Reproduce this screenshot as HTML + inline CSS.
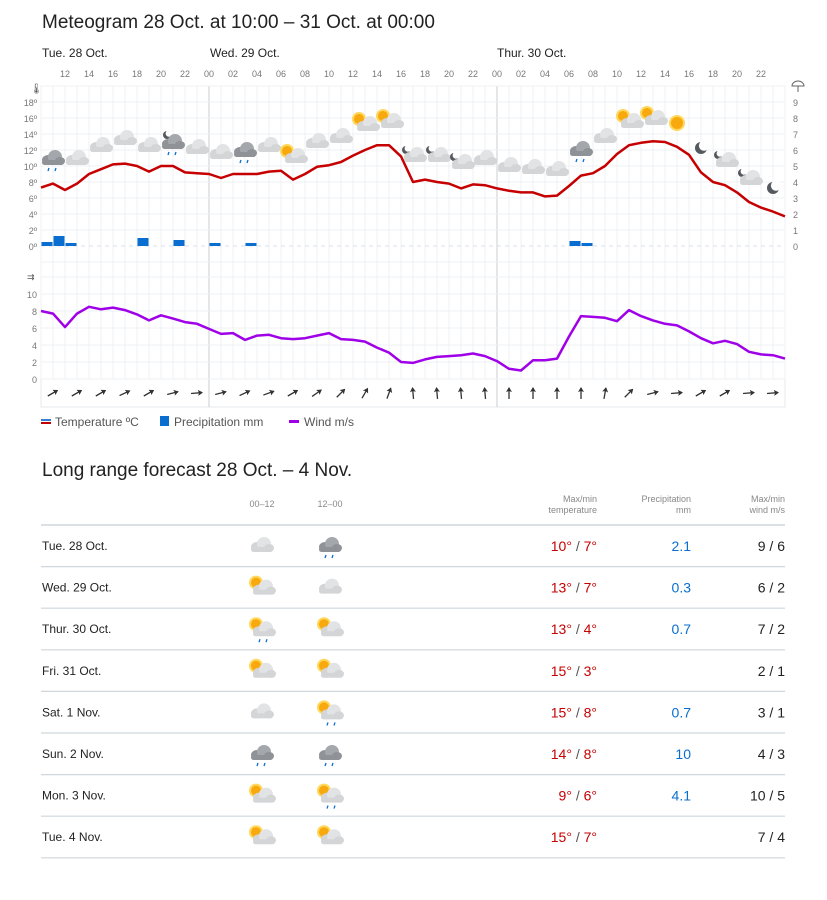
<!DOCTYPE html>
<html><head><meta charset="utf-8"><style>
body{margin:0;background:#fff;font-family:"Liberation Sans",sans-serif;color:#222;}
#wrap{position:relative;width:827px;height:900px;overflow:hidden}
.t{position:absolute;white-space:nowrap}
</style></head><body><div id="wrap">
<div class="t" style="left:42px;top:12px;font-size:19px;color:#222">Meteogram 28 Oct. at 10:00 – 31 Oct. at 00:00</div>
<svg id="ch" width="827" height="440" style="position:absolute;left:0;top:0" font-family="Liberation Sans, sans-serif"></svg>
<div class="t" style="left:42px;top:460px;font-size:19px">Long range forecast 28 Oct. – 4 Nov.</div>
<svg id="tb" width="827" height="420" style="position:absolute;left:0;top:480px" font-family="Liberation Sans, sans-serif"></svg>
</div>
<script>
var s='';
var X0=41,HW=12;
function x(h){return X0+h*HW;}
s+='<rect x="41" y="86" width="744" height="321" fill="none" stroke="#e4e8ec"/>';
for(var h=0;h<=62;h++){s+='<line x1="'+x(h)+'" y1="86" x2="'+x(h)+'" y2="379" stroke="#eef0f3"/>';}
s+='<line x1="209" y1="86" x2="209" y2="407" stroke="#c8ccd0"/><line x1="497" y1="86" x2="497" y2="407" stroke="#c8ccd0"/>';
for(var y=86;y<=262;y+=16){s+='<line x1="41" y1="'+y+'" x2="785" y2="'+y+'" stroke="'+(y==246?'#dde':'#eef0f3')+'"'+(y==246?' stroke-dasharray="4,4"':'')+'/>';}
for(var v=0;v<=12;v+=2){var yy=379-8.5*v;s+='<line x1="41" y1="'+yy+'" x2="785" y2="'+yy+'" stroke="#eef0f3"/>';}
for(var d=0;d<=18;d+=2){s+='<text x="37" y="'+(250-d*8)+'" font-size="9" fill="#777" text-anchor="end">'+d+'º</text>';}
for(var p=0;p<=9;p++){s+='<text x="793" y="'+(250-p*16)+'" font-size="9" fill="#777">'+p+'</text>';}
for(var w=0;w<=10;w+=2){s+='<text x="37" y="'+(383-8.5*w)+'" font-size="9" fill="#777" text-anchor="end">'+w+'</text>';}
s+='<text x="30" y="92" font-size="10" fill="#555">🌡</text>';
s+='<path d="M792 86 a6 5 0 0 1 12 0 z M798 86 v6" stroke="#666" fill="none"/>';
s+='<text x="27" y="280" font-size="9" fill="#555">⇉</text>';
for(var h=2;h<=61;h+=2){var hr=(10+h)%24;s+='<text x="'+x(h)+'" y="77" font-size="9" fill="#777" text-anchor="middle">'+(hr<10?'0':'')+hr+'</text>';}
s+='<text x="42" y="57" font-size="12" fill="#222">Tue. 28 Oct.</text><text x="210" y="57" font-size="12" fill="#222">Wed. 29 Oct.</text><text x="497" y="57" font-size="12" fill="#222">Thur. 30 Oct.</text>';
var pb=[[0,4],[1,10],[2,3],[8,8],[11,6],[14,3],[17,3],[44,5],[45,3]];
pb.forEach(function(b){s+='<rect x="'+(x(b[0])+0.5)+'" y="'+(246-b[1])+'" width="'+(HW-1)+'" height="'+b[1]+'" fill="#0a6ed1"/>';});
var T=[7.3,7.8,7.0,7.8,9.0,9.6,10.2,10.3,10.0,9.3,10.0,10.0,9.2,9.1,9.0,8.5,9.0,9.0,9.0,9.3,9.4,8.3,9.0,9.9,10.1,10.5,11.3,12.0,12.6,12.6,11.2,8.0,8.3,8.0,7.8,7.2,7.7,7.6,7.2,6.9,6.7,6.7,6.2,6.3,7.5,8.8,9.1,10.0,11.5,12.6,12.9,13.1,13.0,12.4,11.4,9.2,8.0,7.6,6.7,5.5,4.8,4.3,3.7];
function path(a,f){var d='';a.forEach(function(v,i){d+=(i?'L':'M')+x(i).toFixed(1)+' '+f(v).toFixed(1);});return d;}
s+='<path d="'+path(T,function(v){return 246-8*v})+'" fill="none" stroke="#c60000" stroke-width="2.5" stroke-linejoin="round"/>';
var W=[8.0,7.7,6.1,7.7,8.5,8.2,8.4,8.1,7.6,6.9,7.5,7.1,6.7,6.5,5.9,5.3,5.4,4.6,5.1,5.2,4.8,4.7,4.8,5.1,5.4,4.7,4.6,4.4,3.7,3.1,2.0,1.9,2.3,2.6,2.7,2.8,3.0,2.7,2.1,1.2,1.0,2.2,2.2,2.4,5.0,7.4,7.3,7.2,6.8,8.1,7.4,6.9,6.5,6.3,5.6,4.8,4.2,4.5,4.1,3.2,2.9,2.8,2.4];
s+='<path d="'+path(W,function(v){return 379-8.5*v})+'" fill="none" stroke="#a000e8" stroke-width="2.5" stroke-linejoin="round"/>';
var ang=[-30,-30,-30,-25,-30,-15,-5,-15,-25,-20,-30,-35,-45,-60,-70,-95,-95,-95,-95,-90,-90,-90,-90,-80,-45,-15,-5,0,0,-5,-5];
for(var i=0;i<31;i++){var cx=x(2*i+1),a=ang[i]||-30;s+='<g transform="translate('+cx+',393) rotate('+(a)+')"><line x1="-6" y1="0" x2="5" y2="0" stroke="#333" stroke-width="1.3"/><path d="M6 0 L1 -3 L2 0 L1 3z" fill="#333"/></g>';}
function cloud(cx,cy,dark){var c=dark?'#8f9296':'#d4d5d7',c2=dark?'#a4a7ab':'#e2e3e5';return '<g><ellipse cx="'+(cx-5)+'" cy="'+(cy+1)+'" rx="6" ry="5" fill="'+c+'"/><ellipse cx="'+(cx+2)+'" cy="'+(cy-2)+'" rx="7" ry="7" fill="'+c2+'"/><ellipse cx="'+(cx+7)+'" cy="'+(cy+2)+'" rx="5" ry="4" fill="'+c+'"/><rect x="'+(cx-11)+'" y="'+(cy+1)+'" width="22" height="5" rx="2.5" fill="'+c+'"/></g>';}
function rain(cx,cy){return '<path d="M'+(cx-4)+' '+(cy+9)+'l-1 3M'+(cx+3)+' '+(cy+9)+'l-1 3" stroke="#0a6ed1" stroke-width="1.3"/>';}
function sun(cx,cy,r){return '<circle cx="'+cx+'" cy="'+cy+'" r="'+(r+2)+'" fill="#ffd75a"/><circle cx="'+cx+'" cy="'+cy+'" r="'+r+'" fill="#f7a90e"/>';}
function moon(cx,cy,r){return '<circle cx="'+cx+'" cy="'+cy+'" r="'+r+'" fill="#555a60"/><circle cx="'+(cx+r*0.5)+'" cy="'+(cy-r*0.4)+'" r="'+r*0.85+'" fill="#fff"/>';}
var ic=[[53,159,'r'],[77,159,'c'],[101,146,'c'],[125,139,'c'],[149,146,'c'],[173,143,'rm'],[197,148,'c'],[221,153,'c'],[245,151,'r'],[269,146,'c'],[293,155,'sc'],[317,142,'c'],[341,137,'c'],[365,123,'sc'],[389,120,'sc'],[413,155,'mc'],[437,155,'mc'],[461,162,'mc'],[485,159,'c'],[509,166,'c'],[533,168,'c'],[557,170,'c'],[581,150,'r'],[605,137,'c'],[629,120,'sc'],[653,117,'sc'],[677,123,'s'],[701,148,'m'],[725,160,'mc'],[749,178,'mc'],[773,188,'m']];
ic.forEach(function(q){var cx=q[0],cy=q[1],t=q[2];
 if(t=='c')s+=cloud(cx,cy);
 else if(t=='r')s+=cloud(cx,cy,1)+rain(cx,cy);
 else if(t=='rm')s+=moon(cx-6,cy-8,4)+cloud(cx,cy,1)+rain(cx,cy);
 else if(t=='sc')s+=sun(cx-6,cy-4,5)+cloud(cx+3,cy+2);
 else if(t=='s')s+=sun(cx,cy,6);
 else if(t=='m')s+=moon(cx,cy,6);
 else if(t=='mc')s+=moon(cx-7,cy-5,4)+cloud(cx+2,cy+1);});
s+='<rect x="41" y="419" width="10" height="2" fill="#3a7bd5"/><rect x="41" y="422" width="10" height="2" fill="#c60000"/><text x="55" y="426" font-size="12" fill="#555">Temperature ºC</text>';
s+='<rect x="160" y="416" width="9" height="10" fill="#0a6ed1"/><text x="174" y="426" font-size="12" fill="#555">Precipitation mm</text>';
s+='<rect x="289" y="420" width="10" height="3" fill="#a000e8"/><text x="304" y="426" font-size="12" fill="#555">Wind m/s</text>';
document.getElementById('ch').innerHTML=s;
var t='';
t+='<text x="262" y="27" font-size="9" fill="#888" text-anchor="middle">00–12</text><text x="330" y="27" font-size="9" fill="#888" text-anchor="middle">12–00</text>';
t+='<text x="597" y="22" font-size="9" fill="#888" text-anchor="end">Max/min</text><text x="597" y="33" font-size="9" fill="#888" text-anchor="end">temperature</text>';
t+='<text x="691" y="22" font-size="9" fill="#888" text-anchor="end">Precipitation</text><text x="691" y="33" font-size="9" fill="#888" text-anchor="end">mm</text>';
t+='<text x="785" y="22" font-size="9" fill="#888" text-anchor="end">Max/min</text><text x="785" y="33" font-size="9" fill="#888" text-anchor="end">wind m/s</text>';
var rows=[['Tue. 28 Oct.','c','r','10°','7°','2.1','9 / 6'],['Wed. 29 Oct.','sc','c','13°','7°','0.3','6 / 2'],['Thur. 30 Oct.','scr','sc','13°','4°','0.7','7 / 2'],['Fri. 31 Oct.','sc','sc','15°','3°','','2 / 1'],['Sat. 1 Nov.','c','scr','15°','8°','0.7','3 / 1'],['Sun. 2 Nov.','r','R','14°','8°','10','4 / 3'],['Mon. 3 Nov.','sc','scr','9°','6°','4.1','10 / 5'],['Tue. 4 Nov.','sc','sc','15°','7°','','7 / 4']];
var ly=45;
t+='<line x1="41" y1="'+ly+'" x2="785" y2="'+ly+'" stroke="#cfd6dc" stroke-width="1.5"/>';
function icon(k,cx,cy){if(k=='c')return cloud(cx,cy);if(k=='r')return cloud(cx,cy,1)+rain(cx,cy);if(k=='R')return cloud(cx,cy,1)+rain(cx,cy);if(k=='sc')return sun(cx-6,cy-5,5)+cloud(cx+2,cy+1);if(k=='scr')return sun(cx-6,cy-5,5)+cloud(cx+2,cy+1)+rain(cx+2,cy+1);return '';}
rows.forEach(function(r,i){var y0=ly+i*41.6,cy=y0+21;
 t+='<text x="42" y="'+(cy+4)+'" font-size="12" fill="#222">'+r[0]+'</text>';
 t+=icon(r[1],262,cy)+icon(r[2],330,cy);
 t+='<text x="597" y="'+(cy+5)+'" font-size="14" text-anchor="end"><tspan fill="#c60000">'+r[3]+'</tspan><tspan fill="#555"> / </tspan><tspan fill="#c60000">'+r[4]+'</tspan></text>';
 t+='<text x="691" y="'+(cy+5)+'" font-size="14" fill="#0a6ed1" text-anchor="end">'+r[5]+'</text>';
 t+='<text x="785" y="'+(cy+5)+'" font-size="14" fill="#222" text-anchor="end">'+r[6]+'</text>';
 t+='<line x1="41" y1="'+(y0+41.6)+'" x2="785" y2="'+(y0+41.6)+'" stroke="#cfd6dc" stroke-width="1.2"/>';});
document.getElementById('tb').innerHTML=t;
</script></body></html>
